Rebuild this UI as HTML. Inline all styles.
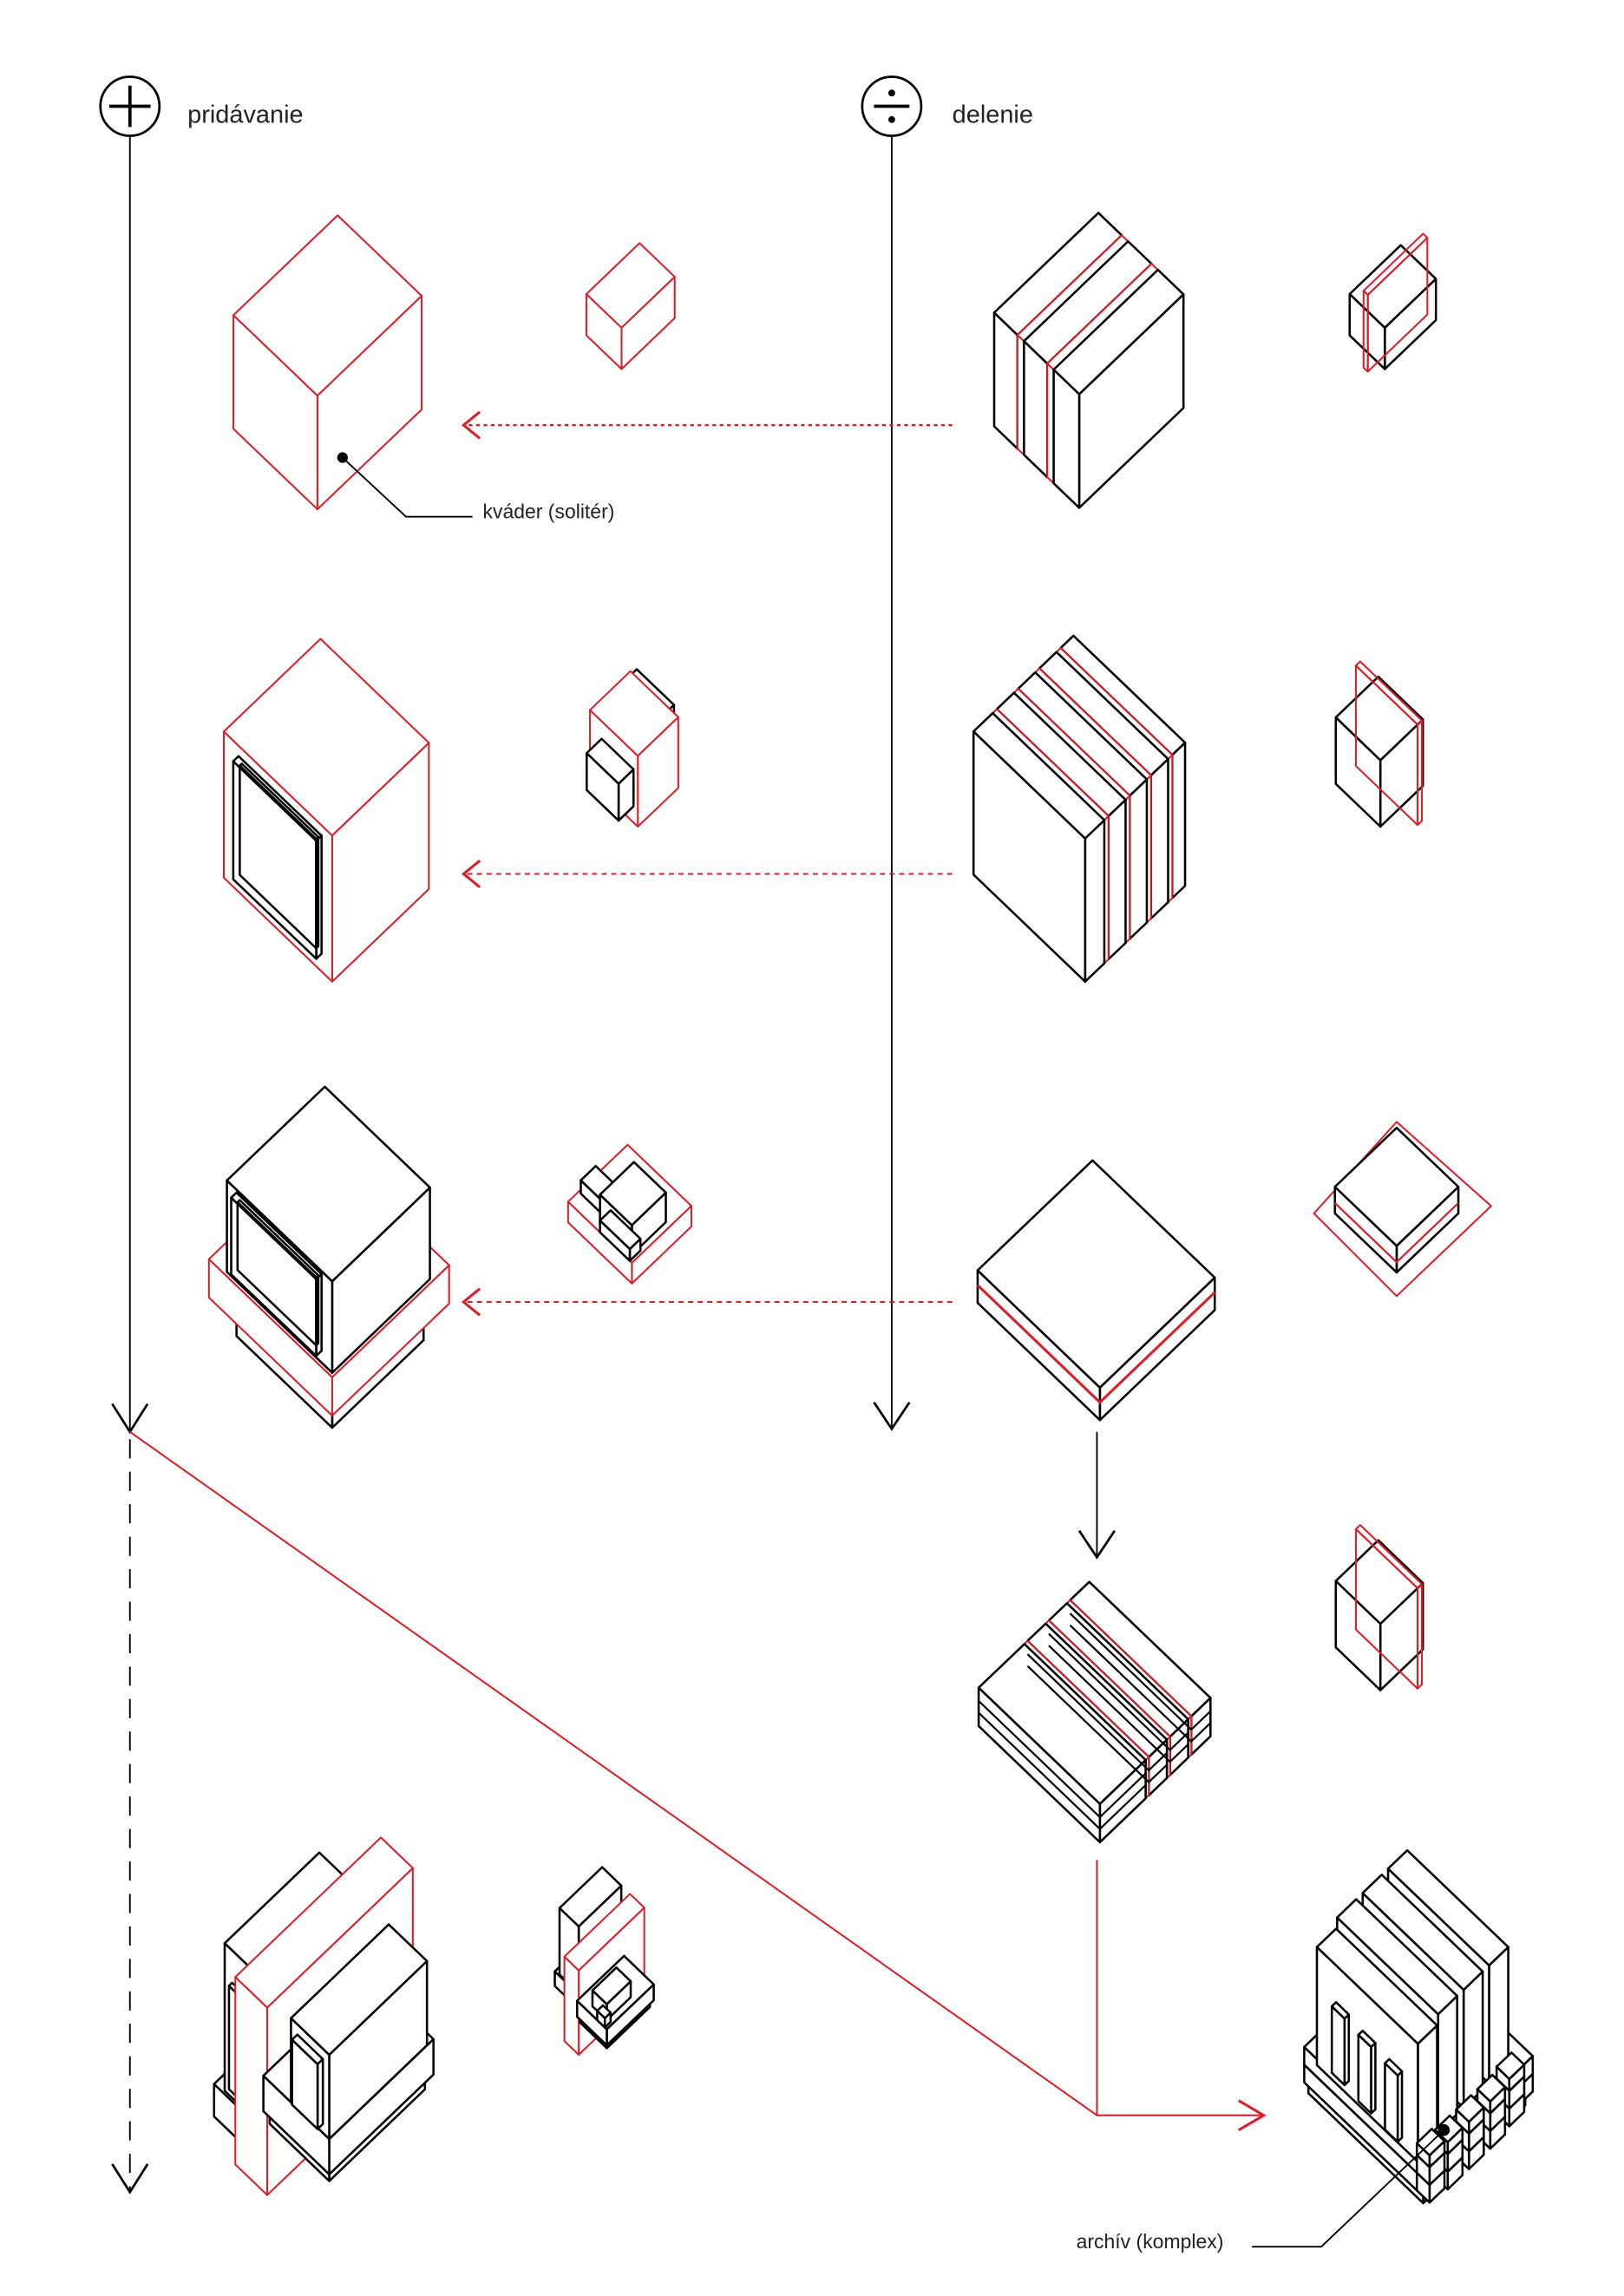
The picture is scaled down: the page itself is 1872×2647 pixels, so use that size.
<!DOCTYPE html>
<html><head><meta charset="utf-8"><style>
html,body{margin:0;padding:0;background:#fff;}
svg{display:block;}
text{font-family:"Liberation Sans",sans-serif;fill:#222;}
</style></head><body>
<svg id="s" xmlns="http://www.w3.org/2000/svg" width="1872" height="2647" viewBox="0 0 1100 1555.4">
<rect width="1100" height="1556" fill="#fff"/>
<circle cx="88" cy="72" r="20" fill="none" stroke="#000" stroke-width="1.6"/>
<line x1="74" y1="72" x2="102" y2="72" stroke="#000" stroke-width="2.2"/>
<line x1="88" y1="58" x2="88" y2="86" stroke="#000" stroke-width="2.2"/>
<text x="127" y="83" font-size="17">pridávanie</text>
<circle cx="604" cy="72" r="20" fill="none" stroke="#000" stroke-width="1.6"/>
<line x1="592" y1="72" x2="616" y2="72" stroke="#000" stroke-width="2.2"/>
<circle cx="604" cy="63" r="2.3" fill="#000"/><circle cx="604" cy="81" r="2.3" fill="#000"/>
<text x="645" y="83" font-size="17">delenie</text>
<line x1="88" y1="92" x2="88" y2="970" stroke="#000" stroke-width="1.1"/>
<polyline points="76,951 88,970 100,951" fill="none" stroke="#000" stroke-width="1.6"/>
<line x1="88" y1="975" x2="88" y2="1485" stroke="#000" stroke-width="1.1" stroke-dasharray="13,9"/>
<polyline points="76,1466 88,1485 100,1466" fill="none" stroke="#000" stroke-width="1.6"/>
<line x1="604" y1="92" x2="604" y2="968" stroke="#000" stroke-width="1.1"/>
<polyline points="592,950 604,968 616,950" fill="none" stroke="#000" stroke-width="1.6"/>
<line x1="743" y1="970" x2="743" y2="1055" stroke="#000" stroke-width="1.1"/>
<polyline points="731,1037 743,1055 755,1037" fill="none" stroke="#000" stroke-width="1.6"/>
<g stroke="#d9202a" fill="none">
<line x1="645" y1="288" x2="316" y2="288" stroke-width="1.4" stroke-dasharray="2.5,2.5"/>
<polyline points="325,279 314,288 325,297" stroke-width="1.8"/>
<line x1="645" y1="592" x2="316" y2="592" stroke-width="1.2" stroke-dasharray="3.5,3"/>
<polyline points="325,583 314,592 325,601" stroke-width="1.8"/>
<line x1="645" y1="882" x2="316" y2="882" stroke-width="1.2" stroke-dasharray="3.5,3"/>
<polyline points="325,873 314,882 325,891" stroke-width="1.8"/>
<line x1="88" y1="970" x2="743" y2="1433" stroke-width="1.2"/>
<polyline points="743,1260 743,1433 855,1433" stroke-width="1.2"/>
<polyline points="839,1423 856,1433 839,1443" stroke-width="1.8"/>
</g>
<g id="figs"></g>
<g stroke="#000" fill="none" stroke-width="1.1">
<polyline points="232,310 275,350 320,350"/>
<polyline points="848,1522 895,1522 978,1443"/>
</g>
<text x="327" y="351" font-size="13.5">kváder (solitér)</text>
<text x="729" y="1523" font-size="13.5">archív (komplex)</text>
<g id="dots"></g>
</svg>
<script>
var NS="http://www.w3.org/2000/svg",G=document.getElementById("figs");
var RED="#d9202a";
function P(o,s,a,b,z){return [o[0]+s*0.72*(a-b), o[1]-s*0.69*(a+b)-s*z];}
function poly(pts,col,fill,w){var e=document.createElementNS(NS,"polygon");
 e.setAttribute("points",pts.map(function(p){return p[0].toFixed(1)+","+p[1].toFixed(1)}).join(" "));
 e.setAttribute("fill",fill);e.setAttribute("stroke",col);e.setAttribute("stroke-width",w);
 e.setAttribute("stroke-linejoin","round");G.appendChild(e);}
function pl(pts,col,w){var e=document.createElementNS(NS,"polyline");
 e.setAttribute("points",pts.map(function(p){return p[0].toFixed(1)+","+p[1].toFixed(1)}).join(" "));
 e.setAttribute("fill","none");e.setAttribute("stroke",col);e.setAttribute("stroke-width",w);G.appendChild(e);}
function box(o,s,a0,b0,z0,la,lb,lz,c,nofill){
 var col=c=="r"?RED:"#000",w=c=="r"?1.2:1.5,f=nofill?"none":"#fff";
 var a1=a0+la,b1=b0+lb,z1=z0+lz;
 var q=function(a,b,z){return P(o,s,a,b,z)};
 poly([q(a0,b0,z0),q(a1,b0,z0),q(a1,b0,z1),q(a0,b0,z1)],col,f,w);
 poly([q(a0,b0,z0),q(a0,b1,z0),q(a0,b1,z1),q(a0,b0,z1)],col,f,w);
 poly([q(a0,b0,z1),q(a1,b0,z1),q(a1,b1,z1),q(a0,b1,z1)],col,f,w);
}
function fig(o,s,list){list.forEach(function(L){box(o,s,L[0],L[1],L[2],L[3],L[4],L[5],L[6],L[7]);});}

fig([215,345],1,[[0,0,0,98,79,77,"r"]]);
fig([421,250],1,[[0,0,0,50,33,28,"r"]]);
fig([731,344],1,[[0,58,0,98,22,77,"k"],[0,52,0,98,6,77,"r"],[0,30,0,98,22,77,"k"],[0,24,0,98,6,77,"r"],[0,0,0,98,24,77,"k"]]);
fig([938,250],1,[[0,0,0,48,33,28,"k"],[-2,14,-10,56,4,52,"r",1]]);
fig([225,665],1,[[0,0,0,91,102,99,"r"],[-5,10,12,5,78,80,"k"],[-2,13,15,2,72,74,"k",1]]);
fig([432,560],1,[[30,8,10,12,35,38,"k"],[0,0,0,38,45,48,"r"],[-6,12,0,14,30,25,"k"]]);
fig([735,665],1,[[82,0,0,12,105,97,"k"],[78,0,0,4,105,97,"r"],[62,0,0,16,105,97,"k"],[58,0,0,4,105,97,"r"],[42,0,0,16,105,97,"k"],[38,0,0,4,105,97,"r"],[22,0,0,16,105,97,"k"],[18,0,0,4,105,97,"r"],[0,0,0,18,105,97,"k"]]);
fig([935,560],1,[[0,0,0,40,42,45,"k"],[27,-8,-12,4,58,68,"r",1]]);
fig([225,970],1,[[2,2,0,86,90,24,"k"],[-8,-8,22,110,116,26,"r"],[0,0,40,92,99,62,"k"],[-5,10,48,5,80,52,"k"],[-2,13,51,2,74,46,"k",1]]);
fig([428,872],1,[[4,4,0,40,40,10,"k"],[-4,-4,8,56,60,14,"r"],[6,20,22,14,34,9,"k"],[0,0,22,32,30,20,"k"],[-4,-2,22,10,28,8,"k"]]);
fig([745,962],1,[[0,0,0,108,115,22,"k"]]);
(function(){var o=[745,962];pl([P(o,1,0,115,12),P(o,1,0,0,12),P(o,1,108,0,12)],RED,1.8);
 poly([[946,760],[1010,817],[946,878],[890,822]],RED,"none",1.2);
 fig([946,862],1,[[0,0,0,58,58,18,"k"]]);
 var o2=[946,862];pl([P(o2,1,0,58,7),P(o2,1,0,0,7),P(o2,1,58,0,7)],RED,1.3);
})();
fig([745,1248],1,[[86,0,0,18,114,26,"k"],[83,0,0,3,114,26,"r"],[66,0,0,17,114,26,"k"],[63,0,0,3,114,26,"r"],[46,0,0,17,114,26,"k"],[43,0,0,3,114,26,"r"],[0,0,0,43,114,26,"k"]]);
(function(){var o=[745,1248];[0,46,66,86].forEach(function(a){var la=a==0?43:(a==86?18:17);
 pl([P(o,1,a,114,9),P(o,1,a,0,9),P(o,1,a+la,0,9)],"#000",1.3);
 pl([P(o,1,a,114,17),P(o,1,a,0,17),P(o,1,a+la,0,17)],"#000",1.3);});})();
fig([935,1145],1,[[0,0,0,40,42,45,"k"],[27,-8,-12,4,58,68,"r",1]]);
fig([181,1444],1,[[-6,-6,-16,40,50,22,"k"],[0,0,0,89,40,100,"k"],[-3,8,8,3,25,70,"k"]]);
fig([181,1487],1,[[0,0,0,137,30,127,"r"]]);
fig([223,1483],1,[[4,4,0,90,56,10,"k"],[0,0,10,98,62,24,"k"],[0,0,34,92,36,57,"k"],[-5,6,40,5,24,44,"k"]]);
fig([392,1350],0.45,[[-6,-6,-16,40,50,22,"k"],[0,0,0,89,40,100,"k"]]);
fig([392,1392],0.45,[[0,0,0,137,30,127,"r"]]);
fig([411,1390],0.45,[[4,4,0,90,56,10,"k"],[0,0,10,98,62,24,"k"],[10,10,34,50,30,24,"k"],[0,4,34,12,16,14,"k"]]);
(function(){var o=[964,1488];
 fig(o,1,[[4,4,-10,96,108,10,"k"],[0,0,0,103,112,12,"k"],[0,0,12,103,112,12,"k"]]);
 fig(o,1,[[72,10,20,18,95,80,"k"],[48,10,20,18,95,80,"k"],[24,10,20,18,95,80,"k"],[0,5,20,18,95,80,"k"]]);
 fig(o,1,[[-4,70,30,4,12,45,"k"],[-4,45,28,4,12,45,"k"],[-4,20,26,4,12,45,"k"]]);
 [[75,-6],[55,-8],[35,-8],[15,-8],[0,-6]].forEach(function(p){
  fig(o,1,[[p[0],p[1],0,14,12,12,"k"],[p[0],p[1],12,14,12,12,"k"],[p[0],p[1],24,14,12,8,"k"]]);});
})();
var d=document.createElementNS(NS,"circle");d.setAttribute("cx",232);d.setAttribute("cy",310);d.setAttribute("r",3.6);document.getElementById("dots").appendChild(d);
d=document.createElementNS(NS,"circle");d.setAttribute("cx",978);d.setAttribute("cy",1443);d.setAttribute("r",4);document.getElementById("dots").appendChild(d);
</script>
</body></html>
